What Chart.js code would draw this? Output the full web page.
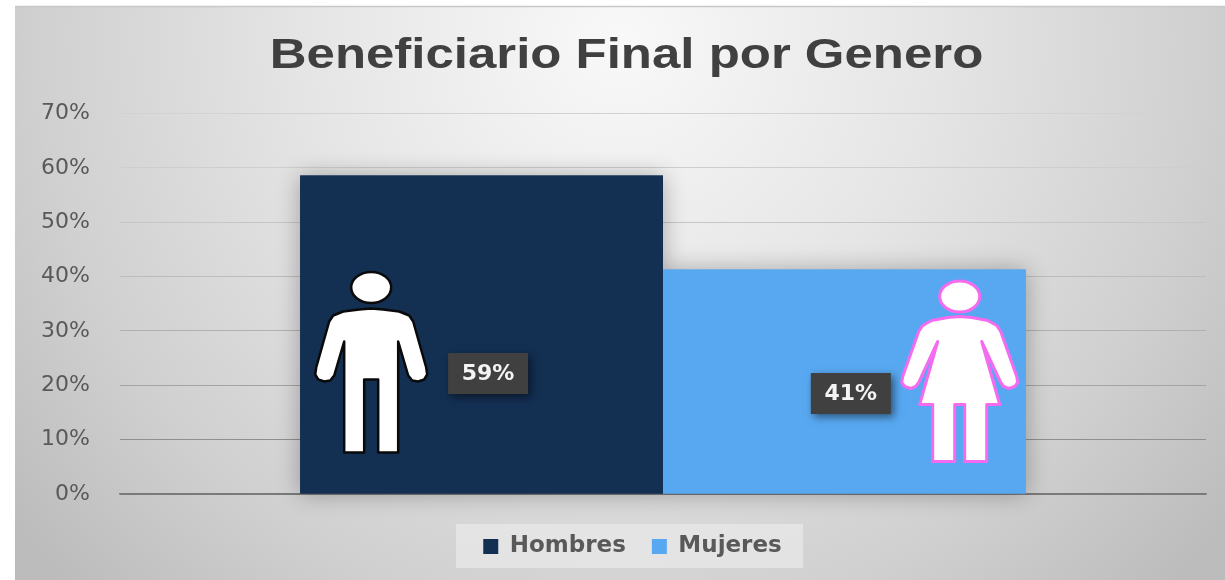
<!DOCTYPE html>
<html>
<head>
<meta charset="utf-8">
<style>
html,body{margin:0;padding:0;background:#fff;overflow:hidden}
#wrap{width:1225px;height:580px}
canvas{display:block;filter:blur(0.6px)}
</style>
<script src="https://cdn.jsdelivr.net/npm/chart.js@4/dist/chart.umd.min.js"></script>
</head>
<body>
<div id="wrap"><canvas id="c" width="1225" height="580"></canvas></div>
<script>
const categories = ["Beneficiario"];
const seriesNames = ["Hombres", "Mujeres"];
const hombres = [58.6];
const mujeres = [41.3];
const seriesColors = ["#132F52", "#58A8F1"];
const titleText = "Beneficiario Final por Genero";
const FONT = "'DejaVu Sans'";

const manBody = [[0,21],[-12,22],[-28,24],[-38,28],[-42,34],[-55,80],[-56,87],[-53,92],[-47,94],[-41,93],[-37,88],[-27,54],[-27,165],[-7,165],[-7,92],[7,92],[7,165],[27,165],[27,54],[37,88],[41,93],[47,94],[53,92],[56,87],[55,80],[42,34],[38,28],[28,24],[12,22]];
const womanBody = [[0,20],[-12,21],[-28,24],[-37,29],[-41,35],[-57,80],[-58,86],[-55,90],[-49,92],[-44,90],[-41,86],[-22,45],[-40,108],[-27,108],[-27,165],[-5,165],[-5,108],[5,108],[5,165],[27,165],[27,108],[40,108],[22,45],[41,86],[44,90],[49,92],[55,90],[58,86],[57,80],[41,35],[37,29],[28,24],[12,21]];

function drawIcon(ctx, body, cx, top, fill, stroke, lw){
  ctx.save();
  ctx.translate(cx, top);
  ctx.lineJoin = "round";
  ctx.fillStyle = fill;
  ctx.strokeStyle = stroke;
  ctx.lineWidth = lw;
  ctx.beginPath();
  ctx.ellipse(0, 0, 20, 15.5, 0, 0, Math.PI*2);
  ctx.fill(); ctx.stroke();
  ctx.beginPath();
  body.forEach((p,i)=> i ? ctx.lineTo(p[0],p[1]) : ctx.moveTo(p[0],p[1]));
  ctx.closePath();
  ctx.fill(); ctx.stroke();
  ctx.restore();
}

const backdrop = {
  id: "backdrop",
  beforeDraw(chart){
    const ctx = chart.ctx;
    ctx.save();
    const g = ctx.createRadialGradient(620,40,10,620,40,775);
    g.addColorStop(0,"#f8f8f8");
    g.addColorStop(0.4,"#e5e5e5");
    g.addColorStop(0.75,"#d0d0d0");
    g.addColorStop(1,"#bcbcbc");
    ctx.fillStyle = g;
    ctx.fillRect(15,7,1210,573);
    ctx.strokeStyle = "#c8c8c8";
    ctx.lineWidth = 1.5;
    ctx.beginPath(); ctx.moveTo(15,6.5); ctx.lineTo(1225,6.5); ctx.stroke();
    ctx.fillStyle = "rgba(232,232,232,0.75)";
    ctx.fillRect(456,524,347,44);
    ctx.restore();
  },
  beforeDatasetsDraw(chart){
    const ctx = chart.ctx;
    [0,1].forEach(i=>{
      const b = chart.getDatasetMeta(i).data[0];
      ctx.save();
      ctx.shadowColor = "rgba(0,0,0,0.3)";
      ctx.shadowBlur = 22;
      ctx.fillStyle = seriesColors[i];
      ctx.fillRect(b.x-b.width/2, b.y, b.width, b.base-b.y);
      ctx.restore();
    });
  },
  afterLayout(chart){
    const wrap = (box, dx, dy, sx) => {
      if (box._wrapped) return;
      const orig = box.draw.bind(box);
      box.draw = function(){
        const ctx = chart.ctx;
        const c = box.left + box.width/2;
        ctx.save();
        ctx.translate(c + dx, dy);
        ctx.scale(sx, 1);
        ctx.translate(-c, 0);
        orig();
        ctx.restore();
      };
      box._wrapped = true;
    };
    wrap(chart.titleBlock, 18, 0, 1.185);
    wrap(chart.legend, 24, 7, 1);
  }
};

const pictos = {
  id:"pictos",
  afterDatasetsDraw(chart){
    const ctx = chart.ctx;
    const m = chart.getDatasetMeta(0).data[0];
    const w = chart.getDatasetMeta(1).data[0];
    const base = m.base;
    drawIcon(ctx, manBody, m.x - m.width/2 + 71, base - 206, "#fff", "#0a0a0a", 2.5);
    drawIcon(ctx, womanBody, w.x + w.width/2 - 66, base - 197, "#fff", "#F46BF0", 3);
    const labels = [
      {el:m, val:hombres[0], dy:39},
      {el:w, val:mujeres[0], dy:12}
    ];
    labels.forEach(o=>{
      const cx = o.el.x + 6.5;
      const cy = (o.el.y + o.el.base)/2 + o.dy;
      ctx.save();
      ctx.shadowColor = "rgba(0,0,0,0.5)";
      ctx.shadowBlur = 8;
      ctx.shadowOffsetX = 3;
      ctx.shadowOffsetY = 3;
      ctx.fillStyle = "#404040";
      ctx.fillRect(cx-40, cy-20.5, 80, 41);
      ctx.restore();
      ctx.save();
      ctx.fillStyle = "#f4f4f4";
      ctx.font = "bold 22px " + FONT;
      ctx.textAlign = "center";
      ctx.textBaseline = "middle";
      ctx.fillText(Math.round(o.val) + "%", cx, cy+1);
      ctx.restore();
    });
  }
};

const gridColors = {70:"#d2d2d2",60:"#cecece",50:"#c6c6c6",40:"#bcbcbc",30:"#b0b0b0",20:"#a4a4a4",10:"#8f8f8f",0:"#7a7a7a"};

new Chart(document.getElementById("c"), {
  type:"bar",
  data:{
    labels:categories,
    datasets:[
      {label:seriesNames[0], data:hombres, backgroundColor:seriesColors[0], borderWidth:0},
      {label:seriesNames[1], data:mujeres, backgroundColor:seriesColors[1], borderWidth:0}
    ]
  },
  options:{
    responsive:false,
    animation:false,
    devicePixelRatio:1,
    layout:{padding:{left:11,right:19,top:30,bottom:19}},
    datasets:{bar:{categoryPercentage:0.668,barPercentage:1}},
    scales:{
      x:{
        ticks:{display:false},
        grid:{display:false},
        border:{color:"#7a7a7a",width:1.5}
      },
      y:{
        min:0,max:70,
        ticks:{stepSize:10,color:"#595959",font:{family:FONT,size:22},padding:30,callback:v=>v+"%"},
        grid:{drawTicks:false,lineWidth:1,color:ctx=>gridColors[ctx.tick.value]},
        border:{display:false}
      }
    },
    plugins:{
      title:{display:true,text:titleText,color:"#404040",font:{family:"'Liberation Sans'",size:43,weight:"bold"},padding:{top:0,bottom:32}},
      legend:{
        position:"bottom",
        labels:{boxWidth:15,boxHeight:15,color:"#595959",font:{family:FONT,size:23,weight:"bold"},padding:26}
      },
      tooltip:{enabled:false}
    }
  },
  plugins:[backdrop,pictos]
});
</script>
</body>
</html>
